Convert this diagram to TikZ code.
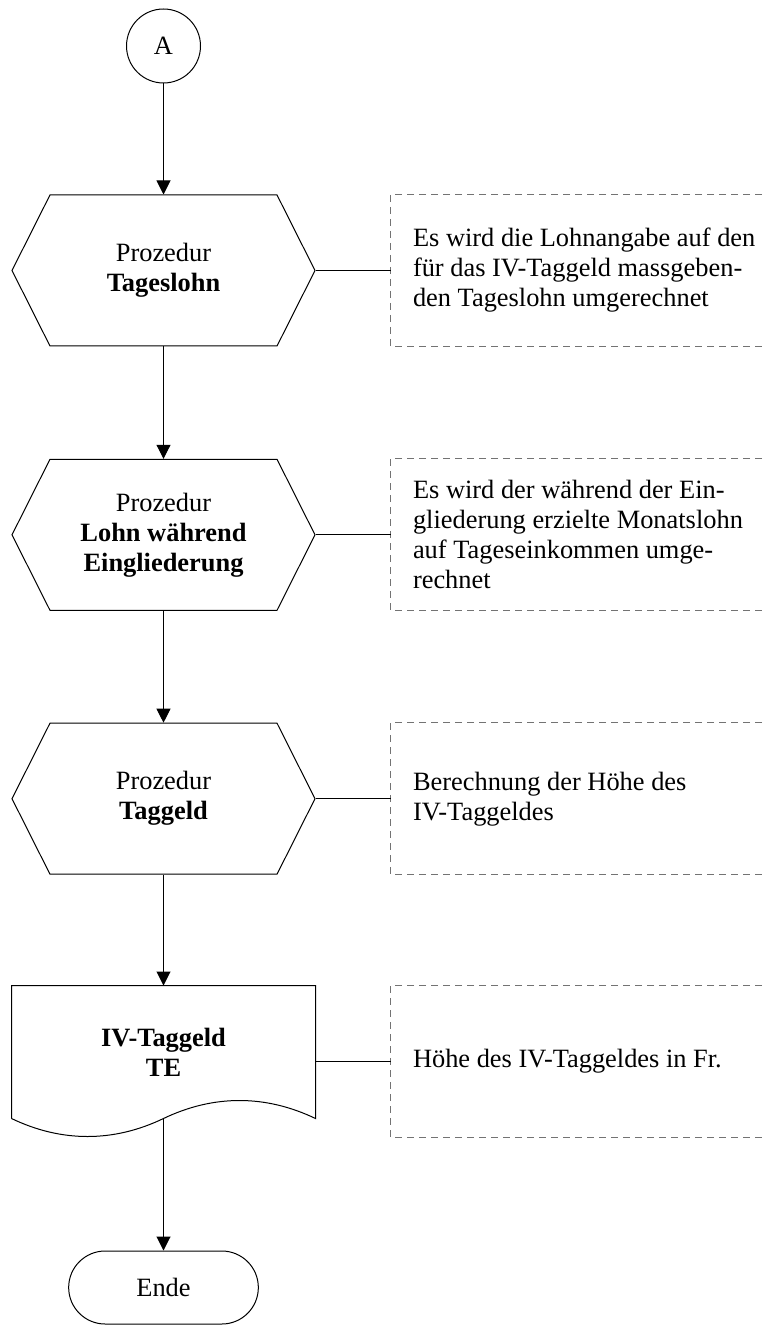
\documentclass[tikz,border=0pt]{standalone}
\usepackage{fontspec}
\setmainfont{Liberation Serif}
\usetikzlibrary{arrows.meta,shapes.misc,shapes.symbols}
\tikzset{%
	connector/.style = {draw, circle, minimum size=37pt, inner sep=0pt},
	procedure/.style = {draw, signal, signal to=east and west, signal pointer angle=126.6, minimum width=151.5pt, minimum height=75.5pt, inner sep=0pt, align=center},
	docout/.style    = {rectangle, minimum width=151.5pt, minimum height=66pt, inner sep=0pt, align=center},
	startstop/.style = {draw, rounded rectangle, minimum width=101.5pt, minimum height=36.5pt},
	note/.style      = {anchor=west, minimum height=75.5pt, inner xsep=11pt, inner ysep=0pt, align=left},
	arrow/.style     = {-{Triangle[length=7pt,width=7pt]}},
	bracket/.style   = {draw=black!55, dash pattern=on 3.5pt off 2.5pt},
}
\begin{document}
\begin{tikzpicture}[x=0.5pt, y=0.5pt, line width=0.5pt, font=\fontsize{13.2pt}{15pt}\selectfont]
	\useasboundingbox (0,0) rectangle (762,-1325);
	\coordinate (rim) at (762,0);
	% flow
	\node[connector] (a) at (163.5,-46) {A};
	\node[procedure] (lohn) at (163.5,-270.5) {Prozedur\\\textbf{Tageslohn}};
	\node[procedure] (eingl) at (163.5,-534.8) {Prozedur\\\textbf{Lohn während}\\\textbf{Eingliederung}};
	\node[procedure] (tg) at (163.5,-798.7) {Prozedur\\\textbf{Taggeld}};
	\node[docout] (te) at (163.5,-1052) {\textbf{IV-Taggeld}\\\textbf{TE}};
	\draw (te.south west) -- (te.north west) -- (te.north east) -- (te.south east)
		.. controls +(-50,24) and +(50,24) .. (te.south)
		.. controls +(-50,-24) and +(50,-24) .. (te.south west);
	\node[startstop] (ende) at (163.5,-1287.5) {Ende};
	\draw[arrow] (a.south) -- (lohn.north);
	\draw[arrow] (lohn.south) -- (eingl.north);
	\draw[arrow] (eingl.south) -- (tg.north);
	\draw[arrow] (tg.south) -- (te.north);
	\draw[arrow] (te.south) -- (ende.north);
	% notes
	\node[note] (n1) at (390.5,-270.5) {Es wird die Lohnangabe auf den\\für das IV-Taggeld massgeben-\\den Tageslohn umgerechnet};
	\node[note] (n2) at (390.5,-534.8) {Es wird der während der Ein-\\gliederung erzielte Monatslohn\\auf Tageseinkommen umge-\\rechnet};
	\node[note] (n3) at (390.5,-798.7) {Berechnung der Höhe des\\IV-Taggeldes};
	\node[note] (n4) at (390.5,-1061.5) {Höhe des IV-Taggeldes in Fr.};
	\foreach \n in {n1,n2,n3,n4}
		\draw[bracket] (\n.north west -| rim) -- (\n.north west) -- (\n.south west) -- (\n.south west -| rim);
	\draw (lohn.east) -- (n1.west);
	\draw (eingl.east) -- (n2.west);
	\draw (tg.east) -- (n3.west);
	\draw (n4.west) -- (n4.west -| te.east);
\end{tikzpicture}
\end{document}
